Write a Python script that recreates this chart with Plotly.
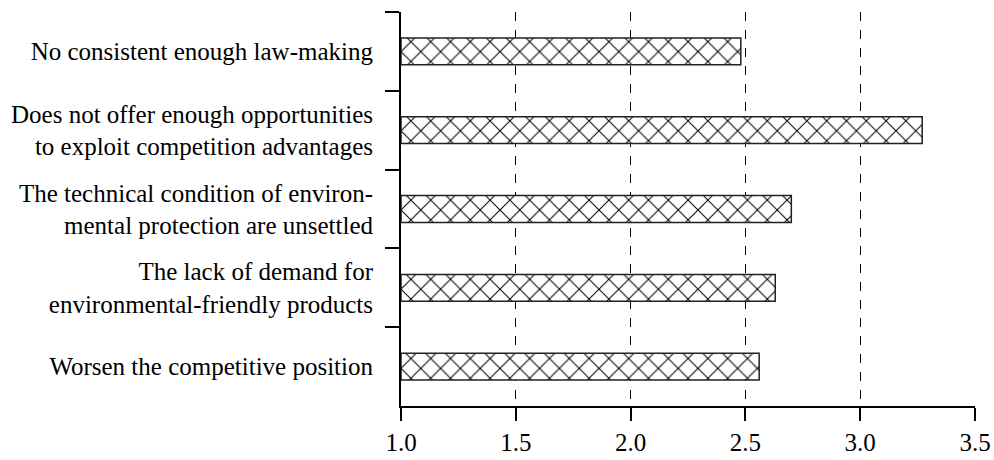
import plotly.graph_objects as go

categories = [
    "No consistent enough law-making",
    "Does not offer enough opportunities<br>to exploit competition advantages",
    "The technical condition of environ-<br>mental protection are unsettled",
    "The lack of demand for<br>environmental-friendly products",
    "Worsen the competitive position",
]
values = [2.48, 3.27, 2.70, 2.63, 2.56]
x_ticks = [1.0, 1.5, 2.0, 2.5, 3.0, 3.5]
x_tick_labels = ["1.0", "1.5", "2.0", "2.5", "3.0", "3.5"]

FONT = "Liberation Serif, Times New Roman, serif"

fig = go.Figure(
    go.Bar(
        y=categories,
        x=[v - 1.0 for v in values],
        base=1.0,
        orientation="h",
        marker=dict(
            color="white",
            line=dict(color="#222", width=1.5),
            pattern=dict(shape="x", fgcolor="black", fgopacity=1, bgcolor="white",
                         size=14, solidity=0.14, fillmode="overlay"),
        ),
        hoverinfo="skip",
    )
)

fig.update_layout(
    width=994,
    height=460,
    margin=dict(l=401, r=19, t=12, b=54, autoexpand=False),
    paper_bgcolor="white",
    plot_bgcolor="white",
    showlegend=False,
    bargap=0.66,
    font=dict(family=FONT, size=25, color="black"),
)

fig.update_xaxes(
    range=[1.0, 3.5],
    tickvals=x_ticks,
    ticktext=x_tick_labels,
    showgrid=True,
    gridcolor="black",
    gridwidth=1,
    griddash="dash",
    showline=True,
    linecolor="black",
    linewidth=2,
    ticks="outside",
    ticklen=13,
    tickwidth=2,
    tickcolor="black",
    zeroline=False,
    automargin=False,
    tickfont=dict(family=FONT, size=25, color="black"),
)

fig.update_yaxes(
    type="category",
    categoryorder="array",
    categoryarray=categories,
    autorange="reversed",
    tickson="boundaries",
    ticks="outside",
    ticklen=14,
    tickwidth=2,
    tickcolor="black",
    showline=True,
    linecolor="black",
    linewidth=2,
    showgrid=False,
    automargin=False,
    ticklabelstandoff=21,
    tickfont=dict(family=FONT, size=25, color="black"),
)

fig.write_html(
    "out.html",
    config={"displayModeBar": False},
    post_script="document.body.style.margin='0';document.body.style.overflow='hidden';",
)
